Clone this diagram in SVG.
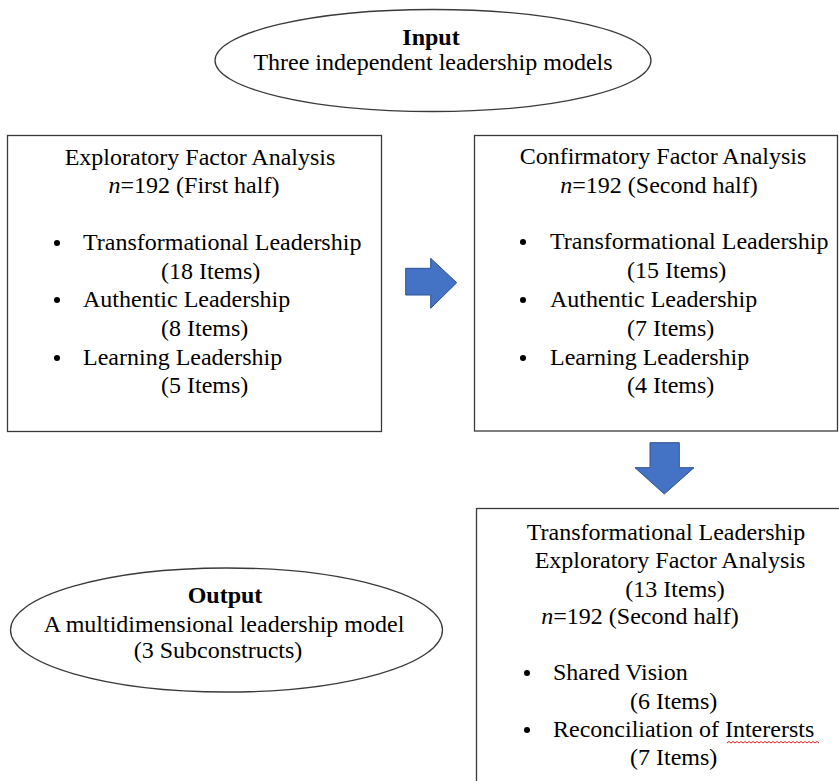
<svg xmlns="http://www.w3.org/2000/svg" width="839" height="781" viewBox="0 0 839 781">
<style>
.t{font-family:"Liberation Serif","Times New Roman",serif;font-size:24px;fill:#000}
.c{text-anchor:middle}
.b{font-weight:bold}
.i{font-style:italic}
.shape{fill:#fff;stroke:#3a3a3a;stroke-width:1.3}
.arrow{fill:#4472C4;stroke:#2F528F;stroke-width:1}
.dot{fill:#000}
</style>
<rect width="839" height="781" fill="#fff"/>
<g id="input">
<ellipse class="shape" cx="433" cy="60.5" rx="218" ry="51"/>
<text class="t c b" x="431" y="45">Input</text>
<text class="t c" x="433" y="70">Three independent leadership models</text>
</g>
<g id="efa">
<rect class="shape" x="7.5" y="135.5" width="374" height="296"/>
<text class="t c" x="200" y="165">Exploratory Factor Analysis</text>
<text class="t c" x="194" y="193"><tspan class="i">n</tspan>=192 (First half)</text>
<circle class="dot" cx="57" cy="243" r="3"/>
<text class="t" x="83" y="250">Transformational Leadership</text>
<text class="t" x="161" y="279">(18 Items)</text>
<circle class="dot" cx="57" cy="300" r="3"/>
<text class="t" x="83" y="307">Authentic Leadership</text>
<text class="t" x="161" y="336">(8 Items)</text>
<circle class="dot" cx="57" cy="358" r="3"/>
<text class="t" x="83" y="365">Learning Leadership</text>
<text class="t" x="161" y="393">(5 Items)</text>
</g>
<g id="cfa">
<rect class="shape" x="474.5" y="135.5" width="363" height="295.5"/>
<text class="t c" x="663" y="164">Confirmatory Factor Analysis</text>
<text class="t c" x="659" y="193"><tspan class="i">n</tspan>=192 (Second half)</text>
<circle class="dot" cx="523" cy="242" r="3"/>
<text class="t" x="550" y="249">Transformational Leadership</text>
<text class="t" x="627" y="278">(15 Items)</text>
<circle class="dot" cx="523" cy="300" r="3"/>
<text class="t" x="550" y="307">Authentic Leadership</text>
<text class="t" x="627" y="336">(7 Items)</text>
<circle class="dot" cx="523" cy="358" r="3"/>
<text class="t" x="550" y="365">Learning Leadership</text>
<text class="t" x="627" y="393">(4 Items)</text>
</g>
<g id="tl-efa">
<rect class="shape" x="476.5" y="508.5" width="380" height="300"/>
<text class="t c" x="666" y="540">Transformational Leadership</text>
<text class="t c" x="670" y="568">Exploratory Factor Analysis</text>
<text class="t c" x="675" y="597">(13 Items)</text>
<text class="t c" x="640" y="624"><tspan class="i">n</tspan>=192 (Second half)</text>
<circle class="dot" cx="527" cy="673" r="3"/>
<text class="t" x="553" y="680">Shared Vision</text>
<text class="t" x="630" y="709">(6 Items)</text>
<circle class="dot" cx="527" cy="730" r="3"/>
<text class="t" x="553" y="737">Reconciliation of Interersts</text>
<path d="M727 743 l2 -1.5 l2 1.5 l2 -1.5 l2 1.5 l2 -1.5 l2 1.5 l2 -1.5 l2 1.5 l2 -1.5 l2 1.5 l2 -1.5 l2 1.5 l2 -1.5 l2 1.5 l2 -1.5 l2 1.5 l2 -1.5 l2 1.5 l2 -1.5 l2 1.5 l2 -1.5 l2 1.5 l2 -1.5 l2 1.5 l2 -1.5 l2 1.5 l2 -1.5 l2 1.5 l2 -1.5 l2 1.5 l2 -1.5 l2 1.5 l2 -1.5 l2 1.5 l2 -1.5 l2 1.5 l2 -1.5 l2 1.5 l2 -1.5 l2 1.5 l2 -1.5 l2 1.5 l2 -1.5 l2 1.5 l2 -1.5 l2 1.5" fill="none" stroke="#e02020" stroke-width="1"/>
<text class="t" x="630" y="765">(7 Items)</text>
</g>
<g id="output">
<ellipse class="shape" cx="226.5" cy="630" rx="216" ry="62"/>
<text class="t c b" x="225" y="603">Output</text>
<text class="t c" x="224" y="632">A multidimensional leadership model</text>
<text class="t c" x="218" y="658">(3 Subconstructs)</text>
</g>
<g id="connectors">
<path class="arrow" d="M405.7 268.3 H430.7 V258.3 L456.7 282.7 L430.7 308.3 V295 H405.7 Z"/>
<path class="arrow" d="M650 442.7 H679.3 V467.7 H694 L664.3 494 L635 467.7 H650 Z"/>
</g>
</svg>
